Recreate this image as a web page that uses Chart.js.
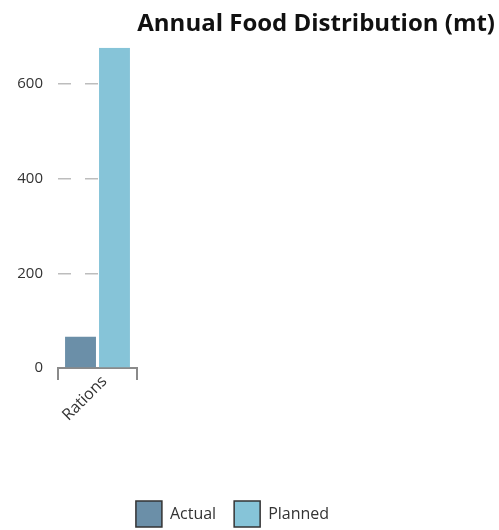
<!DOCTYPE html>
<html lang="en">
<head>
<meta charset="UTF-8">
<title>Annual Food Distribution (mt)</title>
<script src="https://cdn.jsdelivr.net/npm/chart.js"></script>
<style>
  html, body { margin: 0; padding: 0; background: #fff; }
</style>
</head>
<body>
<canvas id="foodChart" width="499" height="530"></canvas>
<script>
// data
var categories = ['Rations'];
var actual = [66];
var planned = [676];
var yTicks = [0, 200, 400, 600];

var padLeft = -30, padRight = 4;
var plotLeft = 58, plotRight = 137;

// push the legend down towards the bottom edge
var legendNudge = {
  id: 'legendNudge',
  beforeLayout: function (chart) {
    var lg = chart.legend;
    if (lg && !lg._nudged) {
      var fit = lg.fit;
      lg.fit = function () { fit.call(this); this.height -= 7; };
      lg._nudged = true;
    }
  }
};

var font = 'Open Sans';

new Chart(document.getElementById('foodChart'), {
  type: 'bar',
  data: {
    labels: categories,
    datasets: [
      { label: 'Actual', data: actual, backgroundColor: '#6b8fa8', borderColor: '#333', borderWidth: 0 },
      { label: 'Planned', data: planned, backgroundColor: '#86c4d8', borderColor: '#333', borderWidth: 0 }
    ]
  },
  options: {
    responsive: false,
    animation: false,
    categoryPercentage: 0.86,
    barPercentage: 0.91,
    layout: { padding: { left: padLeft, right: padRight, top: 0, bottom: 0 } },
    plugins: {
      title: {
        display: true,
        text: 'Annual Food Distribution (mt)',
        align: 'end',
        color: '#111',
        font: { family: font, size: 24, weight: 'bold' },
        padding: { top: 10, bottom: 9 }
      },
      legend: {
        position: 'bottom',
        labels: {
          boxWidth: 26,
          boxHeight: 26,
          padding: 18,
          color: '#333',
          font: { family: font, size: 16 },
          generateLabels: function (chart) {
            var items = Chart.defaults.plugins.legend.labels.generateLabels(chart);
            items.forEach(function (it) { it.lineWidth = 1.5; it.strokeStyle = '#333'; });
            return items;
          }
        }
      },
      tooltip: { enabled: false }
    },
    scales: {
      x: {
        offset: true,
        grid: { drawOnChartArea: false, drawTicks: true, tickLength: 12, color: '#8a8a8a', lineWidth: 2 },
        border: { display: true, color: '#8a8a8a', width: 2 },
        ticks: {
          minRotation: 45, maxRotation: 45, padding: -8, labelOffset: 7,
          color: '#333', font: { family: font, size: 16 }
        },
        afterFit: function (s) { s.height = 115; }
      },
      y: {
        min: 0,
        max: Math.max.apply(null, planned),
        afterBuildTicks: function (s) { s.ticks = yTicks.map(function (v) { return { value: v }; }); },
        afterFit: function (s) { s.width = plotLeft - padLeft; },
        border: { display: false, dash: [13, 14] },
        grid: { color: '#bdbdbd', lineWidth: 1.5, drawTicks: false },
        ticks: { padding: 15, color: '#333', font: { family: font, size: 15 } }
      },
      spacer: {
        type: 'linear',
        position: 'right',
        grid: { display: false },
        border: { display: false },
        ticks: { display: false },
        afterFit: function (s) { s.width = 499 - padRight - plotRight; }
      }
    }
  },
  plugins: [legendNudge]
});
</script>
</body>
</html>
